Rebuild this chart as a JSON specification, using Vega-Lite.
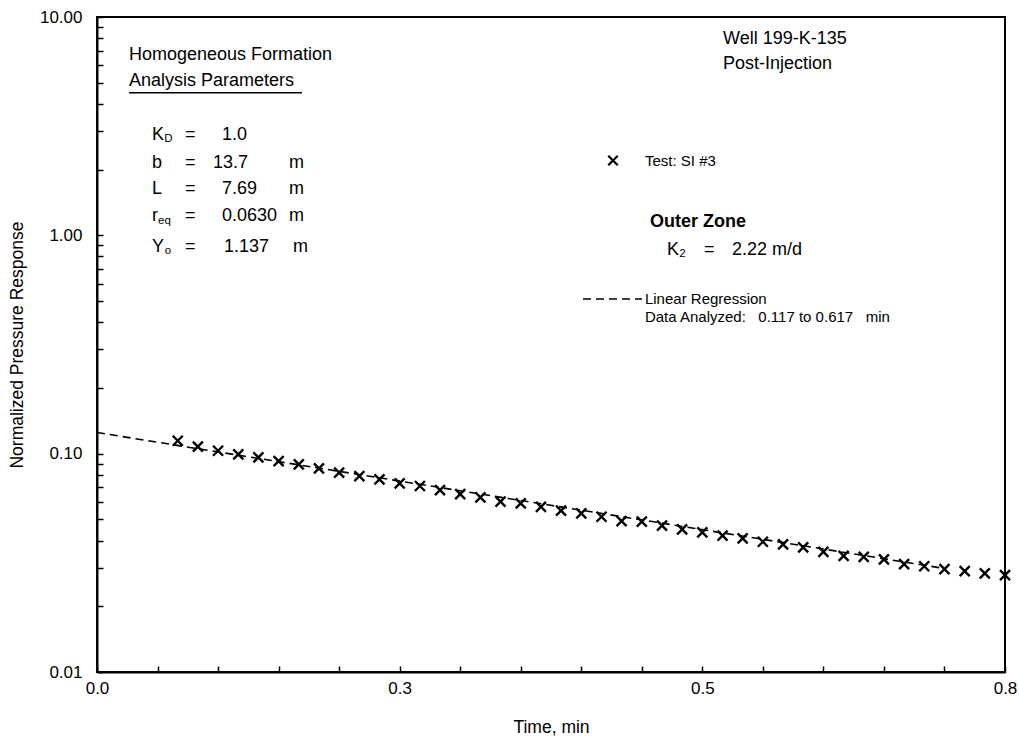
{
  "$schema": "https://vega.github.io/schema/vega-lite/v6.json",
  "width": 908,
  "height": 655,
  "autosize": "none",
  "padding": {"left": 97, "top": 17, "right": 14, "bottom": 69},
  "background": "white",
  "config": {
    "view": {"stroke": "black", "strokeWidth": 2},
    "axis": {
      "grid": false,
      "domainColor": "black",
      "domainWidth": 2,
      "tickColor": "black",
      "tickWidth": 1.5,
      "tickSize": -6,
      "labelFont": "Liberation Sans",
      "labelFontSize": 17,
      "labelColor": "black",
      "titleFont": "Liberation Sans",
      "titleFontSize": 17.5,
      "titleFontWeight": "normal",
      "titleColor": "black",
      "labelOverlap": false,
      "labelFlush": false
    }
  },
  "datasets": {
    "obs": [
      {"t": 0.0667, "v": 0.1146}, {"t": 0.0833, "v": 0.1076}, {"t": 0.1, "v": 0.1031},
      {"t": 0.1167, "v": 0.0993}, {"t": 0.1333, "v": 0.0962}, {"t": 0.15, "v": 0.0925},
      {"t": 0.1667, "v": 0.0893}, {"t": 0.1833, "v": 0.0857}, {"t": 0.2, "v": 0.0818},
      {"t": 0.2167, "v": 0.0789}, {"t": 0.2333, "v": 0.0762}, {"t": 0.25, "v": 0.0731},
      {"t": 0.2667, "v": 0.0711}, {"t": 0.2833, "v": 0.0681}, {"t": 0.3, "v": 0.0653},
      {"t": 0.3167, "v": 0.0631}, {"t": 0.3333, "v": 0.0603}, {"t": 0.35, "v": 0.0592},
      {"t": 0.3667, "v": 0.0571}, {"t": 0.3833, "v": 0.0548}, {"t": 0.4, "v": 0.0533},
      {"t": 0.4167, "v": 0.0514}, {"t": 0.4333, "v": 0.0491}, {"t": 0.45, "v": 0.0488},
      {"t": 0.4667, "v": 0.0468}, {"t": 0.4833, "v": 0.045}, {"t": 0.5, "v": 0.0436},
      {"t": 0.5167, "v": 0.0421}, {"t": 0.5333, "v": 0.0409}, {"t": 0.55, "v": 0.0395},
      {"t": 0.5667, "v": 0.0384}, {"t": 0.5833, "v": 0.0372}, {"t": 0.6, "v": 0.0355},
      {"t": 0.6167, "v": 0.034}, {"t": 0.6333, "v": 0.0337}, {"t": 0.65, "v": 0.0328},
      {"t": 0.6667, "v": 0.0312}, {"t": 0.6833, "v": 0.0305}, {"t": 0.7, "v": 0.0296},
      {"t": 0.7167, "v": 0.029}, {"t": 0.7333, "v": 0.0283}, {"t": 0.75, "v": 0.0278}
    ],
    "fit": [
      {"t": 0.0, "v": 0.125},
      {"t": 0.7, "v": 0.0298}
    ],
    "legendline": [
      {"t": 0.4014, "v": 0.5108},
      {"t": 0.4502, "v": 0.5108}
    ],
    "legendpoint": [
      {"t": 0.4262, "v": 2.2}
    ],
    "underline": [
      {"t": 0.0264, "t2": 0.1693, "v": 4.5}
    ],
    "notes": [
      {"kind": "main", "t": 0.0264, "v": 6.697, "label": "Homogeneous Formation"},
      {"kind": "main", "t": 0.0264, "v": 5.091, "label": "Analysis Parameters"},
      {"kind": "main", "t": 0.0454, "v": 2.880, "label": "K"},
      {"kind": "sub", "t": 0.0555, "v": 2.761, "label": "D"},
      {"kind": "main", "t": 0.0727, "v": 2.880, "label": "="},
      {"kind": "main", "t": 0.1033, "v": 2.880, "label": "1.0"},
      {"kind": "main", "t": 0.0454, "v": 2.144, "label": "b"},
      {"kind": "main", "t": 0.0727, "v": 2.144, "label": "="},
      {"kind": "main", "t": 0.0958, "v": 2.144, "label": "13.7"},
      {"kind": "main", "t": 0.1586, "v": 2.144, "label": "m"},
      {"kind": "main", "t": 0.0454, "v": 1.630, "label": "L"},
      {"kind": "main", "t": 0.0727, "v": 1.630, "label": "="},
      {"kind": "main", "t": 0.1033, "v": 1.630, "label": "7.69"},
      {"kind": "main", "t": 0.1586, "v": 1.630, "label": "m"},
      {"kind": "main", "t": 0.0454, "v": 1.226, "label": "r"},
      {"kind": "sub", "t": 0.0504, "v": 1.163, "label": "eq"},
      {"kind": "main", "t": 0.0727, "v": 1.226, "label": "="},
      {"kind": "main", "t": 0.1033, "v": 1.226, "label": "0.0630"},
      {"kind": "main", "t": 0.1586, "v": 1.226, "label": "m"},
      {"kind": "main", "t": 0.0454, "v": 0.884, "label": "Y"},
      {"kind": "sub", "t": 0.0559, "v": 0.847, "label": "o"},
      {"kind": "main", "t": 0.0727, "v": 0.884, "label": "="},
      {"kind": "main", "t": 0.1049, "v": 0.884, "label": "1.137"},
      {"kind": "main", "t": 0.1619, "v": 0.884, "label": "m"},
      {"kind": "main", "t": 0.5171, "v": 7.929, "label": "Well 199-K-135"},
      {"kind": "main", "t": 0.5171, "v": 6.091, "label": "Post-Injection"},
      {"kind": "small", "t": 0.4526, "v": 2.2, "label": "Test: SI #3"},
      {"kind": "bold", "t": 0.4568, "v": 1.151, "label": "Outer Zone"},
      {"kind": "main", "t": 0.4708, "v": 0.856, "label": "K"},
      {"kind": "sub", "t": 0.4809, "v": 0.821, "label": "2"},
      {"kind": "main", "t": 0.5014, "v": 0.856, "label": "="},
      {"kind": "main", "t": 0.5245, "v": 0.856, "label": "2.22 m/d"},
      {"kind": "small", "t": 0.4526, "v": 0.5108, "label": "Linear Regression"},
      {"kind": "small", "t": 0.4526, "v": 0.4224, "label": "Data Analyzed:\u00a0\u00a0 0.117 to 0.617\u00a0\u00a0 min"}
    ]
  },
  "encoding": {
    "x": {
      "field": "t",
      "type": "quantitative",
      "scale": {"domain": [0, 0.75], "nice": false, "zero": false},
      "axis": {
        "title": "Time, min",
        "values": [0, 0.05, 0.1, 0.15, 0.2, 0.25, 0.3, 0.35, 0.4, 0.45, 0.5, 0.55, 0.6, 0.65, 0.7, 0.75],
        "labelExpr": "indexof([0, 0.25, 0.5, 0.75], datum.value) >= 0 ? format(datum.value, '.1f') : ''",
        "labelPadding": 14,
        "titlePadding": 22
      }
    },
    "y": {
      "field": "v",
      "type": "quantitative",
      "scale": {"type": "log", "domain": [0.01, 10], "nice": false},
      "axis": {
        "title": "Normalized Pressure Response",
        "values": [0.01, 0.02, 0.03, 0.04, 0.05, 0.06, 0.07, 0.08, 0.09, 0.1, 0.2, 0.3, 0.4, 0.5, 0.6, 0.7, 0.8, 0.9, 1, 2, 3, 4, 5, 6, 7, 8, 9, 10],
        "labelExpr": "indexof([0.01, 0.1, 1, 10], datum.value) >= 0 ? format(datum.value, '.2f') : ''",
        "labelPadding": 21,
        "titlePadding": 13
      }
    }
  },
  "layer": [
    {
      "data": {"name": "fit"},
      "mark": {"type": "line", "color": "black", "strokeWidth": 1.6, "strokeDash": [8, 5]}
    },
    {
      "data": {"name": "obs"},
      "mark": {"type": "point", "shape": "M-1,-1L1,1M-1,1L1,-1", "filled": false, "color": "black", "strokeWidth": 2.4, "size": 100, "opacity": 1}
    },
    {
      "data": {"name": "legendline"},
      "mark": {"type": "line", "color": "black", "strokeWidth": 1.6, "strokeDash": [8, 5]}
    },
    {
      "data": {"name": "legendpoint"},
      "mark": {"type": "point", "shape": "M-1,-1L1,1M-1,1L1,-1", "filled": false, "color": "black", "strokeWidth": 2.2, "size": 90, "opacity": 1}
    },
    {
      "data": {"name": "underline"},
      "mark": {"type": "rule", "color": "black", "strokeWidth": 1.6},
      "encoding": {"x2": {"field": "t2"}}
    },
    {
      "data": {"name": "notes"},
      "transform": [{"filter": "datum.kind === 'main'"}],
      "mark": {"type": "text", "align": "left", "baseline": "middle", "font": "Liberation Sans", "fontSize": 18, "color": "black"},
      "encoding": {"text": {"field": "label"}}
    },
    {
      "data": {"name": "notes"},
      "transform": [{"filter": "datum.kind === 'small'"}],
      "mark": {"type": "text", "align": "left", "baseline": "middle", "font": "Liberation Sans", "fontSize": 15, "color": "black"},
      "encoding": {"text": {"field": "label"}}
    },
    {
      "data": {"name": "notes"},
      "transform": [{"filter": "datum.kind === 'sub'"}],
      "mark": {"type": "text", "align": "left", "baseline": "middle", "font": "Liberation Sans", "fontSize": 11.5, "color": "black"},
      "encoding": {"text": {"field": "label"}}
    },
    {
      "data": {"name": "notes"},
      "transform": [{"filter": "datum.kind === 'bold'"}],
      "mark": {"type": "text", "align": "left", "baseline": "middle", "font": "Liberation Sans", "fontSize": 18, "fontWeight": "bold", "color": "black"},
      "encoding": {"text": {"field": "label"}}
    }
  ]
}
